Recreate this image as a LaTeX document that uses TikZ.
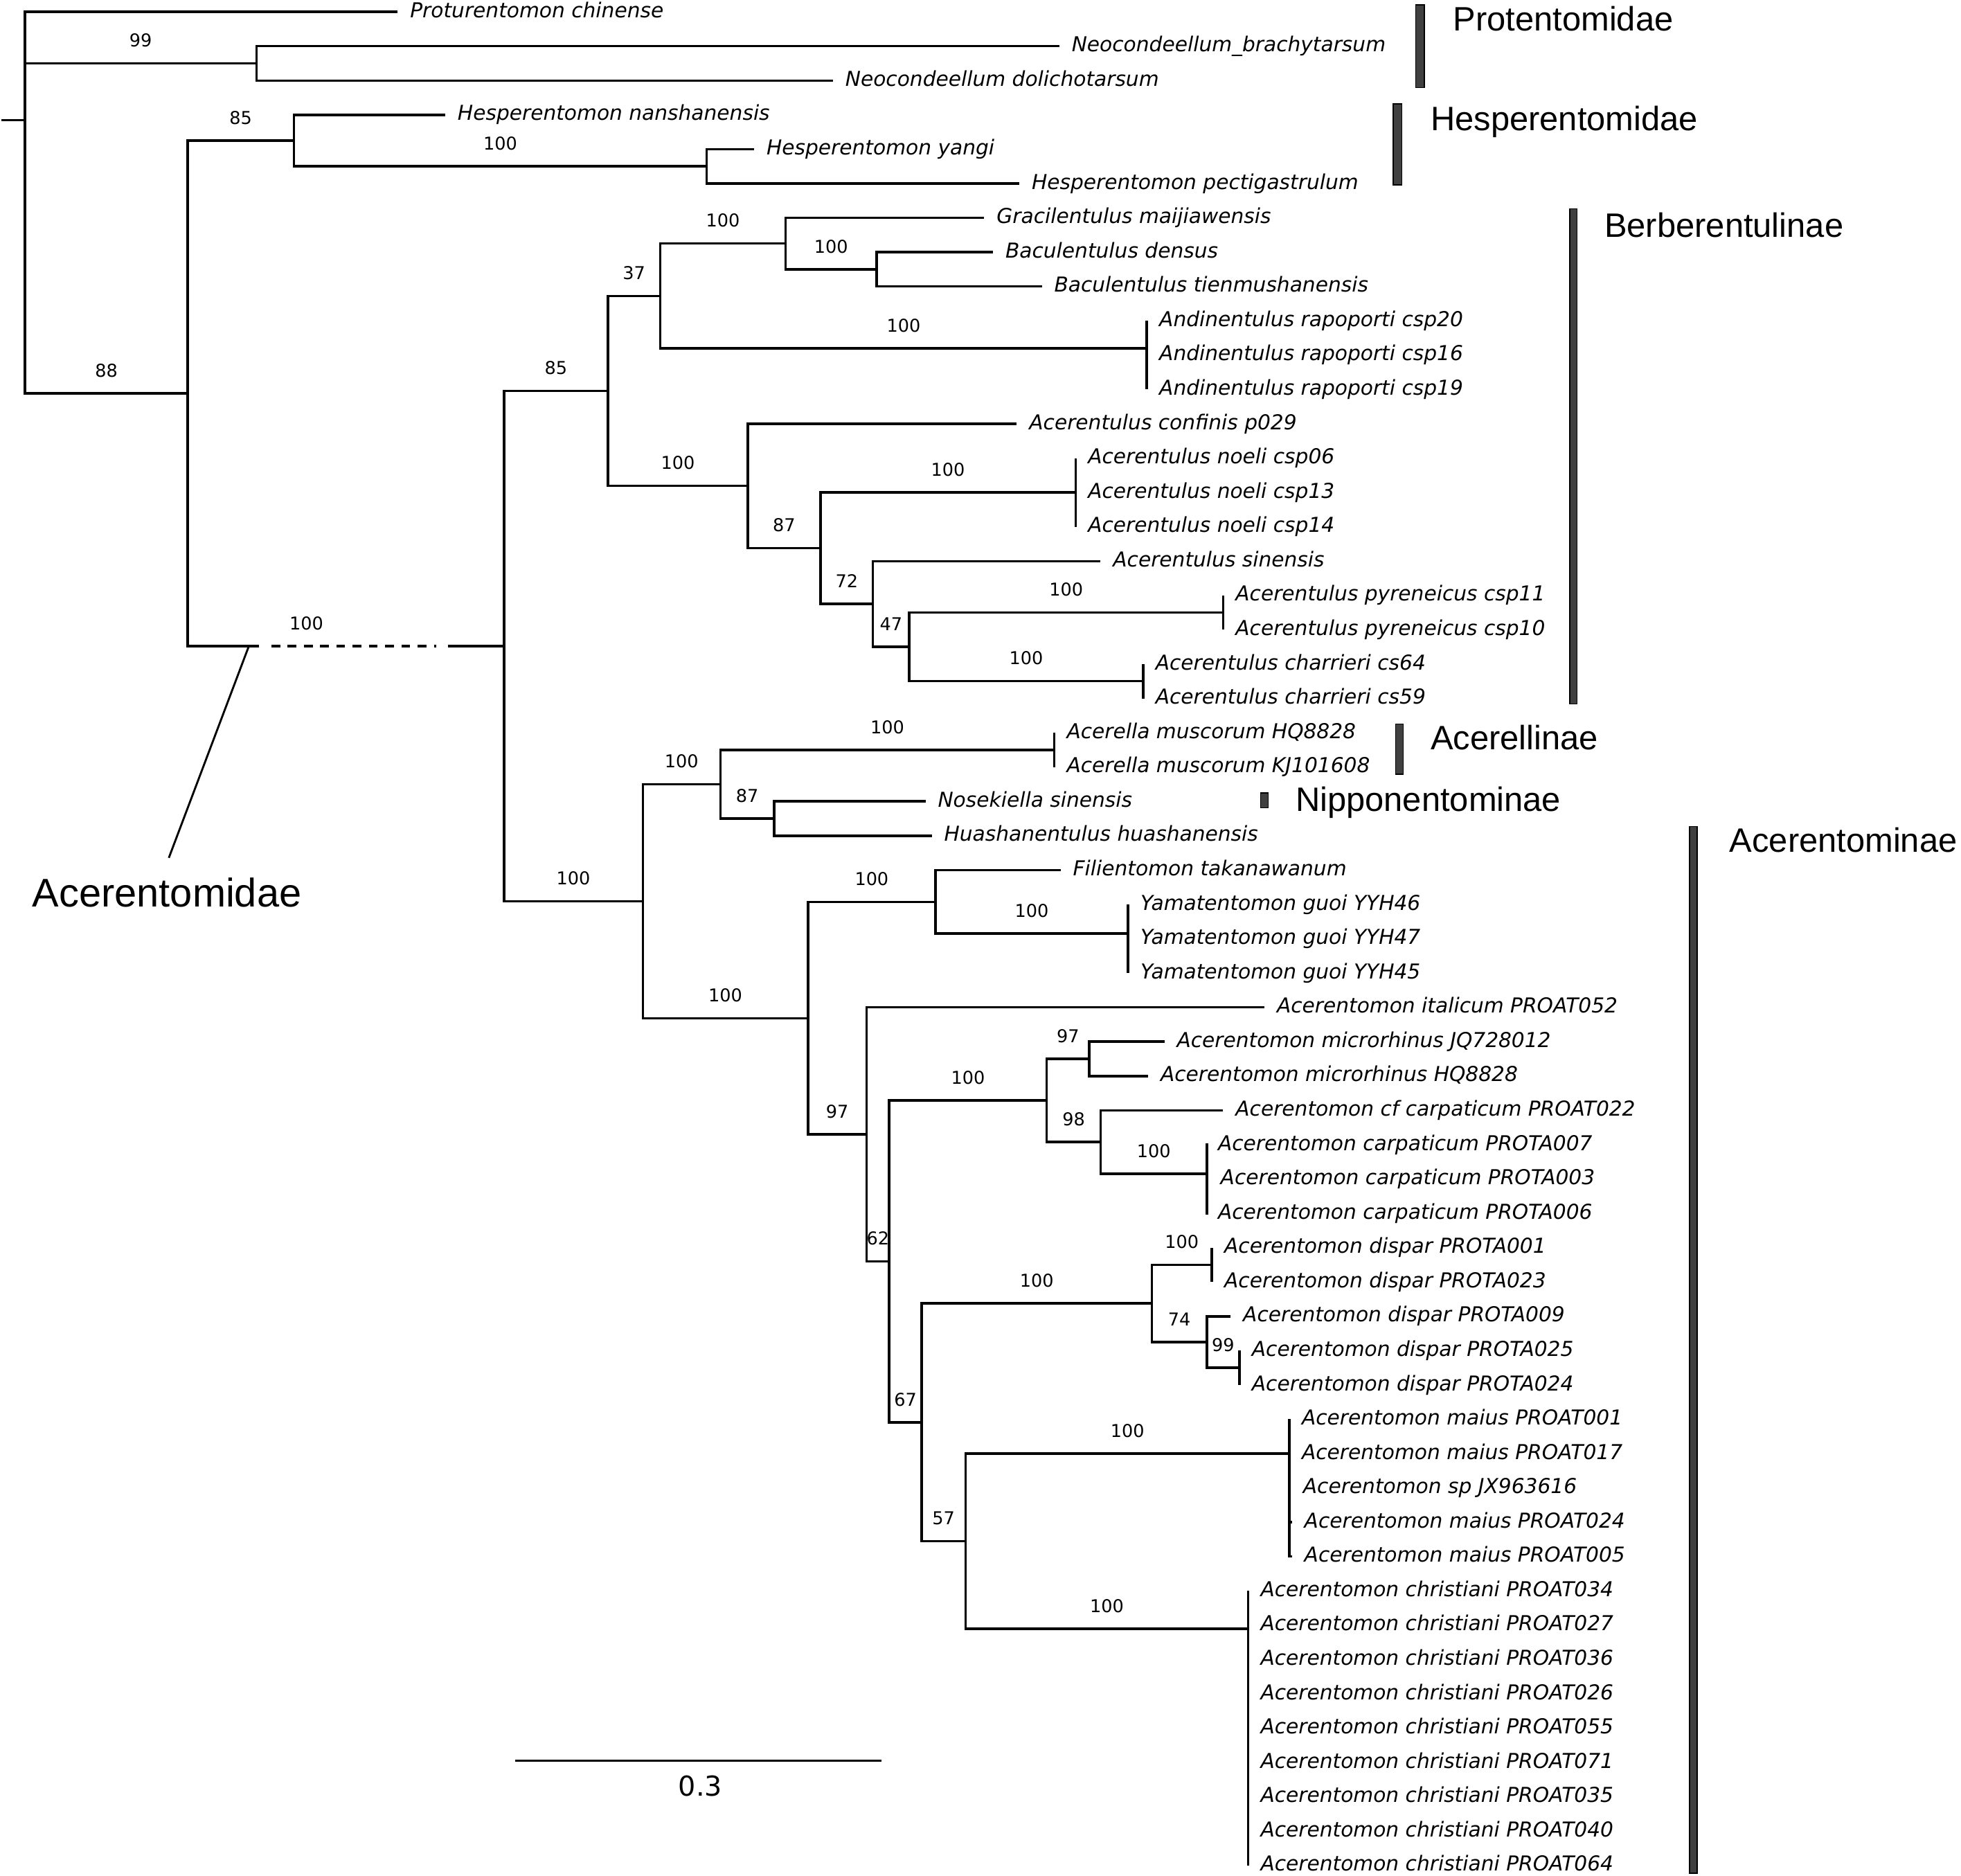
\documentclass[tikz,border=0pt]{standalone}
\usepackage{fontspec}
\setmainfont{DejaVu Sans}
\newfontfamily\cladefont{Liberation Sans}
\usetikzlibrary{positioning}
\definecolor{barfill}{RGB}{64,64,64}

\begin{document}
\begin{tikzpicture}[x=0.02cm, y=-0.549cm, line width=1.1pt,
  taxon/.style={anchor=base west, inner sep=0pt, xshift=0.18cm, yshift=-0.09cm, font=\fontsize{9.35}{11}\selectfont\itshape},
  boot/.style={anchor=south, inner sep=0pt, yshift=0.24cm, font=\fontsize{8.05}{10}\selectfont},
  cladename/.style={anchor=base west, inner sep=0pt, yshift=-0.19cm, font=\fontsize{15.4}{18}\selectfont\cladefont},
  cladebar/.style={fill=barfill, draw=black, line width=0.5pt}]
\useasboundingbox (0,-0.3461) rectangle (1568,54.299);

% tips and their names
\foreach \tx/\tname [count=\i from 0] in {
  318/Proturentomon chinense, 847/Neocondeellum\_brachytarsum, 666/Neocondeellum dolichotarsum,
  356/Hesperentomon nanshanensis, 603/Hesperentomon yangi, 815/Hesperentomon pectigastrulum,
  787/Gracilentulus maijiawensis, 794/Baculentulus densus, 833/Baculentulus tienmushanensis,
  917/Andinentulus rapoporti csp20, 917/Andinentulus rapoporti csp16, 917/Andinentulus rapoporti csp19,
  813/Acerentulus confinis p029, 860/Acerentulus noeli csp06, 860/Acerentulus noeli csp13,
  860/Acerentulus noeli csp14, 880/Acerentulus sinensis, 978/Acerentulus pyreneicus csp11,
  978/Acerentulus pyreneicus csp10, 914/Acerentulus charrieri cs64, 914/Acerentulus charrieri cs59,
  843/Acerella muscorum HQ8828, 843/Acerella muscorum KJ101608, 740/Nosekiella sinensis,
  745/Huashanentulus huashanensis, 848/Filientomon takanawanum, 902/Yamatentomon guoi YYH46,
  902/Yamatentomon guoi YYH47, 902/Yamatentomon guoi YYH45, 1011/Acerentomon italicum PROAT052,
  931/Acerentomon microrhinus JQ728012, 918/Acerentomon microrhinus HQ8828,
  978/Acerentomon cf carpaticum PROAT022, 964/Acerentomon carpaticum PROTA007,
  966/Acerentomon carpaticum PROTA003, 964/Acerentomon carpaticum PROTA006,
  969/Acerentomon dispar PROTA001, 969/Acerentomon dispar PROTA023, 984/Acerentomon dispar PROTA009,
  991/Acerentomon dispar PROTA025, 991/Acerentomon dispar PROTA024,
  1031/Acerentomon maius PROAT001, 1031/Acerentomon maius PROAT017, 1032/Acerentomon sp JX963616,
  1033/Acerentomon maius PROAT024, 1033/Acerentomon maius PROAT005,
  998/Acerentomon christiani PROAT034, 998/Acerentomon christiani PROAT027,
  998/Acerentomon christiani PROAT036, 998/Acerentomon christiani PROAT026,
  998/Acerentomon christiani PROAT055, 998/Acerentomon christiani PROAT071,
  998/Acerentomon christiani PROAT035, 998/Acerentomon christiani PROAT040,
  998/Acerentomon christiani PROAT064}
{
  \coordinate (c\i) at (\tx,\i);
  \node[taxon] (t\i) at (c\i) {\tname};
}

% inner nodes
\coordinate (R0) at (1,3.151);
\coordinate (R) at (20,3.151);
\coordinate (nP) at (205,1.5);
\coordinate (n88) at (150,11.11);
\coordinate (nH) at (235,3.75);
\coordinate (nH2) at (565,4.5);
\coordinate (nA) at (403,18.475);
\coordinate (nBer) at (486,11.04);
\coordinate (n37) at (528,8.275);
\coordinate (nF) at (628,6.75);
\coordinate (nG) at (701,7.5);
\coordinate (nAnd) at (917,9.8);
\coordinate (nB100) at (598,13.81);
\coordinate (n87) at (656,15.625);
\coordinate (nNoe) at (860,14);
\coordinate (n72) at (698,17.25);
\coordinate (n47) at (727,18.5);
\coordinate (nPyr) at (978,17.5);
\coordinate (nCha) at (914,19.5);
\coordinate (nLow) at (514,25.91);
\coordinate (nAcl) at (576,22.5);
\coordinate (nAm) at (843,21.5);
\coordinate (nNos) at (619,23.5);
\coordinate (nD100) at (646,29.315);
\coordinate (nFil) at (748,25.93);
\coordinate (nYam) at (902,26.85);
\coordinate (n97) at (693,32.7);
\coordinate (n62) at (711,36.4);
\coordinate (n100c) at (837,31.71);
\coordinate (nMic) at (871,30.5);
\coordinate (n98) at (880,32.925);
\coordinate (nCar) at (965,33.85);
\coordinate (n67) at (737,41.09);
\coordinate (nD) at (921,37.625);
\coordinate (nD1) at (969,36.5);
\coordinate (n74) at (965,38.75);
\coordinate (nD99) at (991,39.5);
\coordinate (n57) at (772,44.55);
\coordinate (nMai) at (1031,42);
\coordinate (nChr) at (998,47.1);

% Protentomidae, Hesperentomidae
\draw (R0) -- (R);
\draw (R) |- (c0);
\draw (R) |- (nP) node[boot, pos=.75] (bP) {99};
\draw (R) |- (n88) node[boot, pos=.75] (b88) {88};
\draw (nP) |- (c1);
\draw (nP) |- (c2);
\draw (n88) |- (nH) node[boot, pos=.75] (bH) {85};
\draw (nH) |- (c3);
\draw (nH) |- (nH2) node[boot, pos=.75] (bH2) {100};
\draw (nH2) |- (c4);
\draw (nH2) |- (c5);

% cut branch to Acerentomidae
\coordinate (dA) at (207,18.475);
\coordinate (dB) at (217,18.475);
\coordinate (dC) at (349,18.475);
\coordinate (dD) at (358,18.475);
\draw (n88) |- (dA);
\draw[dash pattern=on 0.14cm off 0.12cm] (dB) -- (dC);
\draw (dD) -- (nA);
\node[boot] (bA) at (245,18.475) {100};

% Berberentulinae
\draw (nA) |- (nBer) node[boot, pos=.75] (bBer) {85};
\draw (nA) |- (nLow) node[boot, pos=.75] (bLow) {100};
\draw (nBer) |- (n37) node[boot, pos=.75] (b37) {37};
\draw (nBer) |- (nB100) node[boot, pos=.75] (bB100) {100};
\draw (n37) |- (nF) node[boot, pos=.75] (bF) {100};
\draw (n37) |- (nAnd) node[boot, pos=.75] (bAnd) {100};
\draw (nF) |- (c6);
\draw (nF) |- (nG) node[boot, pos=.75] (bG) {100};
\draw (nG) |- (c7);
\draw (nG) |- (c8);
\foreach \k in {9,10,11}
    \draw (nAnd) |- (c\k);
\draw (nB100) |- (c12);
\draw (nB100) |- (n87) node[boot, pos=.75] (b87) {87};
\draw (n87) |- (nNoe) node[boot, pos=.75] (bNoe) {100};
\draw (n87) |- (n72) node[boot, pos=.75] (b72) {72};
\foreach \k in {13,14,15}
    \draw (nNoe) |- (c\k);
\draw (n72) |- (c16);
\draw (n72) |- (n47) node[boot, pos=.75] (b47) {47};
\draw (n47) |- (nPyr) node[boot, pos=.75] (bPyr) {100};
\draw (n47) |- (nCha) node[boot, pos=.75] (bCha) {100};
\foreach \k in {17,18}
    \draw (nPyr) |- (c\k);
\foreach \k in {19,20}
    \draw (nCha) |- (c\k);

% Acerellinae, Nipponentominae
\draw (nLow) |- (nAcl) node[boot, pos=.75] (bAcl) {100};
\draw (nLow) |- (nD100) node[boot, pos=.75] (bD100) {100};
\draw (nAcl) |- (nAm) node[boot, pos=.75] (bAm) {100};
\draw (nAcl) |- (nNos) node[boot, pos=.75] (bNos) {87};
\foreach \k in {21,22}
    \draw (nAm) |- (c\k);
\foreach \k in {23,24}
    \draw (nNos) |- (c\k);

% Acerentominae
\draw (nD100) |- (nFil) node[boot, pos=.75] (bFil) {100};
\draw (nD100) |- (n97) node[boot, pos=.75] (b97) {97};
\draw (nFil) |- (c25);
\draw (nFil) |- (nYam) node[boot, pos=.75] (bYam) {100};
\foreach \k in {26,27,28}
    \draw (nYam) |- (c\k);
\draw (n97) |- (c29);
\draw (n97) |- (n62) node[boot, pos=.75] (b62) {62};
\draw (n62) |- (n100c) node[boot, pos=.75] (b100c) {100};
\draw (n62) |- (n67) node[boot, pos=.75] (b67) {67};
\draw (n100c) |- (nMic) node[boot, pos=.75] (bMic) {97};
\draw (n100c) |- (n98) node[boot, pos=.75] (b98) {98};
\foreach \k in {30,31}
    \draw (nMic) |- (c\k);
\draw (n98) |- (c32);
\draw (n98) |- (nCar) node[boot, pos=.75] (bCar) {100};
\foreach \k in {33,34,35}
    \draw (nCar) |- (c\k);
\draw (n67) |- (nD) node[boot, pos=.75] (bD) {100};
\draw (n67) |- (n57) node[boot, pos=.75] (b57) {57};
\draw (nD) |- (nD1) node[boot, pos=.75] (bD1) {100};
\draw (nD) |- (n74) node[boot, pos=.75] (b74) {74};
\foreach \k in {36,37}
    \draw (nD1) |- (c\k);
\draw (n74) |- (c38);
\draw (n74) |- (nD99) node[boot, pos=.75] (bD99) {99};
\foreach \k in {39,40}
    \draw (nD99) |- (c\k);
\draw (n57) |- (nMai) node[boot, pos=.75] (bMai) {100};
\draw (n57) |- (nChr) node[boot, pos=.75] (bChr) {100};
\foreach \k in {41,...,45}
    \draw (nMai) |- (c\k);
\foreach \k in {46,...,54}
    \draw (nChr) |- (c\k);

% clade bars and names
\draw[cladebar] (1132,-0.2) rectangle (1139,2.204);
\node[cladename] (cProt) at (1161,0.2) {Protentomidae};
\draw[cladebar] (1114,2.678) rectangle (1121,5.046);
\node[cladename] (cHesp) at (1143,3.115) {Hesperentomidae};
\draw[cladebar] (1255,5.738) rectangle (1261,20.164);
\node[cladename] (cBerb) at (1282,6.211) {Berberentulinae};
\draw[cladebar] (1116,20.747) rectangle (1122,22.204);
\node[cladename] (cAcel) at (1143,21.148) {Acerellinae};
\draw[cladebar] (1008,22.75) rectangle (1014,23.188);
\node[cladename] (cNipp) at (1035,22.933) {Nipponentominae};
\draw[cladebar] (1351,23.734) rectangle (1357,54.226);
\node[cladename] (cAcer) at (1382,24.135) {Acerentominae};

% Acerentomidae pointer
\node[anchor=base west, inner sep=0pt, font=\fontsize{18.2}{22}\selectfont\cladefont] (acname) at (25,26.066) {Acerentomidae};
\coordinate (ptrA) at (199,18.475);
\coordinate (ptrB) at (135,24.645);
\draw[line width=0.9pt] (ptrA) -- (ptrB);

% scale bar
\coordinate (sbL) at (412,50.947);
\coordinate (sbR) at (705,50.947);
\draw (sbL) -- (sbR);
\node[font=\fontsize{12.5}{15}\selectfont] (sbtext) at (560,51.675) {0.3};
\end{tikzpicture}
\end{document}
